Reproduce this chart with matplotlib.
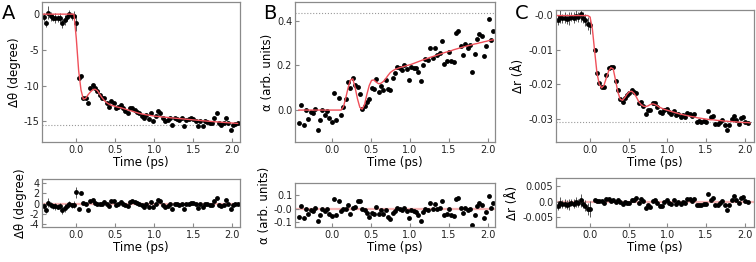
import numpy as np
import matplotlib
matplotlib.use('Agg')
import matplotlib.pyplot as plt

plt.rcParams['font.family'] = 'DejaVu Sans'
plt.rcParams['axes.unicode_minus'] = False

# shared delay grid (ps)
time_ps = [-0.42, -0.39, -0.36, -0.33, -0.30, -0.27, -0.24, -0.21, -0.18, -0.15, -0.12, -0.09, -0.06, -0.03,
           0.00, 0.03, 0.06, 0.09, 0.12, 0.15, 0.18, 0.21, 0.24, 0.27, 0.30, 0.33, 0.36, 0.39, 0.42, 0.45,
           0.48, 0.51, 0.54, 0.57, 0.60, 0.63, 0.66, 0.69, 0.72, 0.75, 0.78, 0.81, 0.84, 0.87, 0.90, 0.93,
           0.96, 0.99, 1.02, 1.05, 1.08, 1.11, 1.14, 1.17, 1.20, 1.23, 1.26, 1.29, 1.32, 1.35, 1.38, 1.41,
           1.44, 1.47, 1.50, 1.53, 1.56, 1.59, 1.62, 1.65, 1.68, 1.71, 1.74, 1.77, 1.80, 1.83, 1.86, 1.89,
           1.92, 1.95, 1.98, 2.01, 2.04, 2.07]

# A: delta theta (degree)
theta = [-0.4, -1.3, 0.2, -0.3, -0.5, -0.5, -0.6, -0.5, -1.3, -0.8, -0.4, 0.0, -0.3, -0.2,
         -1.2, -8.9, -8.6, -11.8, -11.8, -12.5, -10.4, -9.9, -10.3, -10.8, -11.3, -11.8, -11.8, -12.5,
         -13.0, -12.2, -12.4, -13.2, -13.0, -12.7, -13.2, -13.5, -13.8, -13.1, -13.1, -13.4, -13.7, -13.9,
         -14.3, -14.6, -14.1, -14.7, -13.9, -14.9, -14.3, -13.6, -13.9, -14.6, -15.0, -14.8, -14.5, -15.5,
         -14.6, -14.7, -14.8, -14.6, -15.6, -14.8, -14.7, -14.6, -14.7, -14.9, -15.6, -15.0, -15.6, -15.0,
         -15.1, -15.2, -15.2, -14.6, -13.9, -15.3, -15.5, -15.3, -14.5, -15.2, -16.2, -15.5, -15.4, -15.3]
theta_fit = [0, 0, 0, 0, 0, 0, 0, 0, 0, 0, 0, 0, 0, 0,
             -3.4, -7.9, -10.6, -11.9, -11.8, -11.3, -10.9, -10.6, -10.5, -10.7, -11.2, -11.7, -12.1, -12.4,
             -12.6, -12.75, -12.85, -12.95, -13.05, -13.1, -13.2, -13.3, -13.4, -13.5, -13.6, -13.7, -13.8,
             -13.9, -13.97, -14.03, -14.1, -14.15, -14.2, -14.25,
             -14.3, -14.33, -14.37, -14.4, -14.43, -14.46, -14.5, -14.53, -14.56, -14.59, -14.62, -14.65,
             -14.68, -14.71, -14.74, -14.77, -14.8, -14.83, -14.86, -14.89, -14.92, -14.95, -14.98, -15.0,
             -15.03, -15.06, -15.08, -15.1, -15.13, -15.15, -15.18, -15.2, -15.23, -15.25, -15.27, -15.3]
theta_err = [0.6, 0.5, 0.9, 0.6, 0.5, 0.7, 0.5, 0.6, 0.6, 0.7, 0.5, 0.6, 0.5, 0.7, 1.1]
theta_level = -15.56

# B: alpha (arb. units)
alpha = [-0.06, 0.022, -0.066, 0.0, -0.04, -0.01, -0.015, 0.003, -0.09, -0.045, 0.0, -0.02, -0.003, -0.037,
         -0.052, 0.075, -0.045, 0.056, -0.02, 0.012, 0.05, 0.125, 0.097, 0.145, 0.113, 0.105, 0.072, 0.003,
         0.019, 0.037, 0.048, 0.1, 0.095, 0.14, 0.082, 0.107, 0.09, 0.134, 0.093, 0.09, 0.142, 0.164,
         0.195, 0.19, 0.18, 0.2, 0.183, 0.135, 0.193, 0.19, 0.187, 0.172, 0.13, 0.2, 0.227, 0.225,
         0.28, 0.235, 0.277, 0.247, 0.254, 0.308, 0.208, 0.219, 0.259, 0.221, 0.217, 0.344, 0.356, 0.288,
         0.247, 0.294, 0.276, 0.291, 0.172, 0.25, 0.32, 0.34, 0.33, 0.24, 0.287, 0.408, 0.315, 0.356]
alpha_fit = [0, 0, 0, 0, 0, 0, 0, 0, 0, 0, 0, 0, 0, 0, 0, 0, 0, 0, 0,
             0.015, 0.055, 0.10, 0.135, 0.14, 0.10, 0.05, 0.012, 0.004, 0.025, 0.07, 0.11, 0.133, 0.135,
             0.125, 0.118, 0.12, 0.128, 0.14, 0.155, 0.168, 0.176, 0.182, 0.186, 0.19, 0.193, 0.196, 0.199,
             0.202,
             0.205, 0.209, 0.213, 0.217, 0.221, 0.225, 0.228, 0.232, 0.236, 0.239, 0.243, 0.246, 0.25,
             0.253, 0.257, 0.26, 0.263, 0.266, 0.27, 0.273, 0.276, 0.279, 0.282, 0.285, 0.288, 0.29, 0.293,
             0.296, 0.298, 0.301, 0.303, 0.306, 0.308, 0.311, 0.313, 0.315]
alpha_level = 0.433

# C: delta r (angstrom)
nan = np.nan
dr = [-0.0015, -0.0005, -0.001, -0.0008, -0.0012, -0.001, -0.0005, -0.0008, -0.0003, -0.0006, 0.0002,
      -0.0008, -0.0015, -0.0025,
      -0.003, nan, -0.0101, -0.0166, -0.0197, -0.0209, -0.0207, -0.0173, -0.0154, -0.0149, -0.0149,
      -0.019, -0.0215, -0.0243, -0.0252, -0.0238, -0.0231, -0.0224, -0.0215, -0.0221, -0.0226, -0.0253,
      -0.025, -0.0262, -0.0284, -0.0274, -0.0274, -0.0253, -0.0253, -0.0265, -0.0279, -0.0282, -0.0274,
      -0.027, -0.0279, -0.0286, -0.0276, -0.0289, -0.0284, -0.0293, -0.0287, -0.0293, -0.0282, -0.0284,
      -0.0291, -0.0285, -0.0308, -0.0306, -0.0308, -0.0306, -0.0308, -0.0276, -0.0295, -0.0291, -0.0313,
      -0.0313, -0.0308, -0.0303, -0.0317, -0.0332, -0.0317, -0.0301, -0.0291, -0.0303, -0.0313, -0.0298,
      -0.0295, -0.0308, -0.0311, nan]
dr_fit = [-0.0002, -0.0002, -0.0002, -0.0002, -0.0002, -0.0002, -0.0002, -0.0002, -0.0002, -0.0002,
          -0.0002, -0.0002, -0.0002, -0.0002,
          -0.0006, -0.004, -0.0105, -0.0168, -0.02, -0.021, -0.0203, -0.0182, -0.0162, -0.0152, -0.0156,
          -0.0188, -0.0222, -0.0243, -0.0246, -0.0238, -0.0228, -0.0221, -0.022, -0.0226, -0.0237, -0.025,
          -0.0258, -0.0263, -0.0264, -0.0262, -0.0258, -0.0256, -0.0258, -0.0262, -0.0266, -0.0269, -0.0272,
          -0.0274, -0.0276, -0.0278, -0.028, -0.0282, -0.0284, -0.0286, -0.0287, -0.0289, -0.029, -0.0292,
          -0.0293, -0.0294, -0.0296, -0.0297, -0.0298, -0.0299, -0.03, -0.0301, -0.0302, -0.0302, -0.0303,
          -0.0304, -0.0304, -0.0305, -0.0306, -0.0306, -0.0307, -0.0307, -0.0308, -0.0308, -0.0309, -0.0309,
          -0.031, -0.031, -0.031, -0.0311]
dr_err = [0.0015, 0.0018, 0.0012, 0.0015, 0.0014, 0.0018, 0.0012, 0.0015, 0.0016, 0.0014, 0.0022,
          0.0015, 0.0018, 0.002, 0.0025]
dr_level = -0.0309

xticks = [0.0, 0.5, 1.0, 1.5, 2.0]
xticklabels = ['0.0', '0.5', '1.0', '1.5', '2.0']

W, H = 756, 262


def box(l, t, r, b):
    return [l / W, 1 - b / H, (r - l) / W, (b - t) / H]


def style(ax):
    for s in ax.spines.values():
        s.set_color('#8a8a8a')
        s.set_linewidth(0.9)
    ax.tick_params(direction='in', length=3, width=0.8, colors='#8a8a8a',
                   labelcolor='#222222', labelsize=7, pad=2)
    ax.set_xticks(xticks)
    ax.set_xticklabels(xticklabels)
    ax.set_xlabel('Time (ps)', fontsize=8.5, labelpad=1)


panels = [
    dict(letter='A', y=theta, fit=theta_fit, err=theta_err, level=theta_level,
         label='Δθ (degree)', top=(42, 2, 240, 142), bot=(42, 179, 240, 227),
         xlim=(-0.44, 2.10), ylim=(-17.9, 1.7), rlim=(-4.5, 4.8),
         yt=[0, -5, -10, -15], ytl=['0', '-5', '-10', '-15'],
         rt=[4, 2, 0, -2, -4], rtl=['4', '2', '0', '-2', '-4'], lpos=(2, 19)),
    dict(letter='B', y=alpha, fit=alpha_fit, err=None, level=alpha_level,
         label='α (arb. units)', top=(295, 2, 495, 142), bot=(295, 183, 495, 227),
         xlim=(-0.47, 2.09), ylim=(-0.143, 0.484), rlim=(-0.135, 0.19),
         yt=[0.0, 0.2, 0.4], ytl=['0.0', '0.2', '0.4'],
         rt=[0.1, 0.0, -0.1], rtl=['0.1', '-0.0', '-0.1'], lpos=(263, 19)),
    dict(letter='C', y=dr, fit=dr_fit, err=dr_err, level=dr_level,
         label='Δr (Å)', top=(556, 10, 754, 142), bot=(556, 178, 754, 227),
         xlim=(-0.44, 2.12), ylim=(-0.0366, 0.0014), rlim=(-0.0081, 0.0076),
         yt=[0.0, -0.01, -0.02, -0.03], ytl=['-0.0', '-0.01', '-0.02', '-0.03'],
         rt=[0.005, 0.0, -0.005], rtl=['0.005', '0.0', '-0.005'], lpos=(515, 19)),
]

fig = plt.figure(figsize=(7.56, 2.62), dpi=100)
t = np.array(time_ps)

for p in panels:
    y = np.array(p['y'], dtype=float)
    fit = np.array(p['fit'], dtype=float)
    resid = y - fit
    n_err = 0 if p['err'] is None else len(p['err'])

    ax = fig.add_axes(box(*p['top']))
    if n_err:
        ax.errorbar(t[:n_err], y[:n_err], yerr=p['err'], fmt='none', ecolor='#555555',
                    elinewidth=0.7, capsize=0, zorder=1)
    ax.plot(t, y, 'o', color='black', ms=3.5, mew=0, zorder=2)
    ax.plot(t, fit, color='#f0505a', lw=1.0, zorder=3)
    ax.axhline(p['level'], color='#999999', lw=0.8, ls=':', zorder=0)
    ax.set_xlim(*p['xlim'])
    ax.set_ylim(*p['ylim'])
    style(ax)
    ax.set_yticks(p['yt'])
    ax.set_yticklabels(p['ytl'])
    ax.set_ylabel(p['label'], fontsize=8.5, labelpad=2)

    rax = fig.add_axes(box(*p['bot']))
    rax.axhline(0, color='#f7b5b5', lw=1.6, zorder=0)
    if n_err:
        rax.errorbar(t[:n_err], resid[:n_err], yerr=p['err'], fmt='none', ecolor='#555555',
                     elinewidth=0.7, capsize=0, zorder=1)
    rax.plot(t, resid, 'o', color='black', ms=3.5, mew=0, zorder=2)
    rax.set_xlim(*p['xlim'])
    rax.set_ylim(*p['rlim'])
    style(rax)
    rax.set_yticks(p['rt'])
    rax.set_yticklabels(p['rtl'])
    rax.set_ylabel(p['label'], fontsize=8.5, labelpad=2)

    fig.text(p['lpos'][0] / W, 1 - p['lpos'][1] / H, p['letter'], fontsize=14, color='black')

fig.savefig('out.png', dpi=100)
